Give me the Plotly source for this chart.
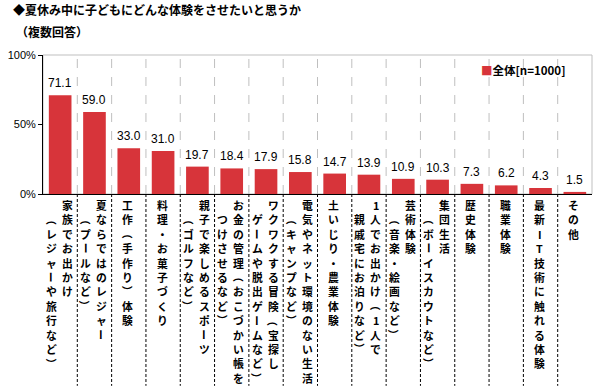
import plotly.graph_objects as go

# ---- data ----
categories = [
    "家族でお出かけ（レジャーや旅行など）",
    "夏ならではのレジャー（プールなど）",
    "工作（手作り）体験",
    "料理・お菓子づくり",
    "親子で楽しめるスポーツ（ゴルフなど）",
    "お金の管理（おこづかい帳をつけさせるなど）",
    "ワクワクする冒険（宝探しゲームや脱出ゲームなど）",
    "電気やネット環境のない生活（キャンプなど）",
    "土いじり・農業体験",
    "1人でお出かけ（1人で親戚宅にお泊りなど）",
    "芸術体験（音楽・絵画など）",
    "集団生活（ボーイスカウトなど）",
    "歴史体験",
    "職業体験",
    "最新IT技術に触れる体験",
    "その他",
]
# label columns as displayed (right column, left column)
label_right = [
    "家族でお出かけ", "夏ならではのレジャー", "工作（手作り）体験", "料理・お菓子づくり",
    "親子で楽しめるスポーツ", "お金の管理（おこづかい帳を", "ワクワクする冒険（宝探し",
    "電気やネット環境のない生活", "土いじり・農業体験", "1人でお出かけ（1人で",
    "芸術体験", "集団生活", "歴史体験", "職業体験", "最新IT技術に触れる体験", "その他",
]
label_left = [
    "（レジャーや旅行など）", "（プールなど）", "", "",
    "（ゴルフなど）", "つけさせるなど）", "ゲームや脱出ゲームなど）",
    "（キャンプなど）", "", "親戚宅にお泊りなど）",
    "（音楽・絵画など）", "（ボーイスカウトなど）", "", "", "", "",
]
values = [71.1, 59.0, 33.0, 31.0, 19.7, 18.4, 17.9, 15.8, 14.7, 13.9, 10.9, 10.3, 7.3, 6.2, 4.3, 1.5]
series_name = "全体[n=1000]"
title1 = "◆夏休み中に子どもにどんな体験をさせたいと思うか"
title2 = "（複数回答）"
y_ticks = [0, 50, 100]
y_tick_text = ["0%", "50%", "100%"]

RED = "#D7343A"
JP = "Noto Sans CJK JP"
LAT = "Liberation Sans, Arial, sans-serif"
ROTATE = set("（）ー")

x = list(range(len(categories)))

fig = go.Figure()
fig.add_trace(go.Bar(
    x=x, y=values, name=series_name, width=0.66,
    marker=dict(color=RED, line=dict(width=0)),
    showlegend=False, hovertext=categories,
))

shapes = []
shapes.append(dict(type="rect", xref="paper", yref="paper", x0=0, x1=1, y0=0, y1=1,
                   line=dict(color="#BFBFBF", width=1), layer="below"))
for i in range(len(categories) - 1):
    shapes.append(dict(type="line", xref="x", yref="paper", x0=i + 0.5, x1=i + 0.5, y0=0, y1=1,
                       line=dict(color="#BFBFBF", width=1, dash="dash"), layer="below"))
    shapes.append(dict(type="line", xref="x", yref="paper", x0=i + 0.5, x1=i + 0.5, y0=0, y1=-1.38,
                       line=dict(color="black", width=1, dash="3px,2px")))

annotations = []
# data labels
for i, v in zip(x, values):
    annotations.append(dict(x=i, y=v, xref="x", yref="y", yanchor="bottom", xanchor="center",
                            yshift=3, text=f"{v:.1f}", showarrow=False,
                            font=dict(family=LAT, size=12, color="black")))

STEP = 14.4


def add_column(i, s, xshift, start):
    for k, ch in enumerate(s):
        annotations.append(dict(
            x=i, y=0, xref="x", yref="paper", yanchor="middle", xanchor="center",
            xshift=xshift, yshift=-(11 + STEP * (k + start)), text=f"<b>{ch}</b>",
            textangle=90 if ch in ROTATE else 0, showarrow=False, borderpad=0,
            font=dict(family=JP, size=10.8, color="black")))


for i in x:
    if label_left[i]:
        add_column(i, label_right[i], 7, 0)
        add_column(i, label_left[i], -9, 1)
    else:
        add_column(i, label_right[i], -1, 0)

annotations.append(dict(x=-0.058, y=1.324, xref="paper", yref="paper", xanchor="left", yanchor="middle",
                        text=f"<b>{title1}</b>", showarrow=False,
                        font=dict(family=JP, size=12, color="black")))
annotations.append(dict(x=-0.052, y=1.17, xref="paper", yref="paper", xanchor="left", yanchor="middle",
                        text=f"<b>{title2}</b>", showarrow=False,
                        font=dict(family=JP, size=12, color="black")))
annotations.append(dict(x=0.795, y=0.89, xref="paper", yref="paper", xanchor="left", yanchor="middle",
                        text=f"<span style='color:{RED}'>■</span><b>{series_name}</b>", showarrow=False,
                        font=dict(family=JP, size=11.5, color="black")))

fig.update_layout(
    width=600, height=387,
    margin=dict(l=38, r=8, t=55, b=193),
    paper_bgcolor="white", plot_bgcolor="white",
    xaxis=dict(range=[-0.5, len(categories) - 0.5], showticklabels=False, ticks="",
               showgrid=False, zeroline=False, showline=True, linecolor="black", linewidth=1),
    yaxis=dict(range=[0, 100], tickmode="array", tickvals=y_ticks, ticktext=y_tick_text,
               ticks="outside", ticklen=4,
               tickcolor="black", showgrid=False, zeroline=False, showline=True,
               linecolor="black", linewidth=1, tickfont=dict(family=LAT, size=11, color="black")),
    shapes=shapes, annotations=annotations,
)

fig.write_html("out.html", config={"displayModeBar": False},
               post_script="document.body.style.margin='0px';")
